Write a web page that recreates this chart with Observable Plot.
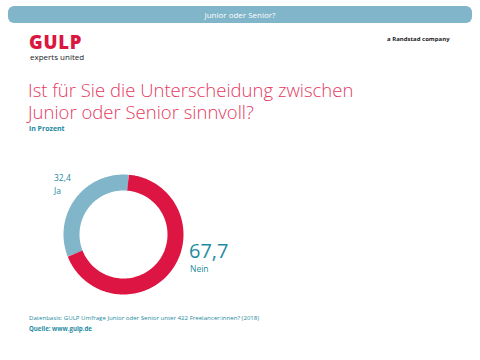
<!DOCTYPE html>
<html><head><meta charset="utf-8">
<script src="https://cdn.jsdelivr.net/npm/d3@7"></script>
<script src="https://cdn.jsdelivr.net/npm/@observablehq/plot@0.6"></script>
<style>
body{margin:0;background:#fff;font-family:"Open Sans",sans-serif;}
#wrap{position:relative;width:480px;height:360px;overflow:hidden;}
.abs{position:absolute;white-space:nowrap;}
#bar{left:8px;top:6px;width:464px;height:17px;border-radius:6px;background:#80b5ca;color:#fff;font-size:8px;text-align:center;line-height:17px;}
#logo{left:29px;top:33px;color:#db1640;font-weight:800;font-size:18.5px;line-height:17px;letter-spacing:0.8px;}
#sub{left:30px;top:52px;color:#222;font-size:8px;line-height:10px;}
#rand{left:387px;top:35px;color:#222;font-size:6px;font-weight:700;}
.tl{left:28px;color:#e5395f;font-size:18.5px;line-height:21px;font-weight:300;}
#unit{left:29px;top:124px;color:#1a8aa0;font-size:7px;line-height:9px;font-weight:700;}
#plot{left:0;top:150px;}
.lab{color:#1f8ba1;}
#foot1{left:29px;top:313px;color:#1f8ba1;font-size:6.1px;line-height:9px;}
#foot2{left:29px;top:324px;color:#1f8ba1;font-size:6.1px;line-height:9px;font-weight:700;}
</style></head>
<body><div id="wrap">
<div id="bar" class="abs"></div>
<div id="logo" class="abs">GULP</div>
<div id="sub" class="abs">experts united</div>
<div id="rand" class="abs">a Randstad company</div>
<div id="t1" class="abs tl" style="top:79px;">Ist für Sie die Unterscheidung zwischen</div>
<div id="t2" class="abs tl" style="top:101px;">Junior oder Senior sinnvoll?</div>
<div id="unit" class="abs">in Prozent</div>
<div id="plot" class="abs"></div>
<div id="labJa1" class="abs lab" style="left:54px;top:172px;font-size:8.5px;line-height:11px;"></div>
<div id="labJa2" class="abs lab" style="left:54px;top:185px;font-size:8.5px;line-height:11px;"></div>
<div id="labNein1" class="abs lab" style="left:189px;top:240px;font-size:20px;line-height:22px;"></div>
<div id="labNein2" class="abs lab" style="left:190px;top:263px;font-size:8.5px;line-height:11px;"></div>
<div id="foot1" class="abs"></div>
<div id="foot2" class="abs"></div>
</div>
<script>
const categories = ["Ja", "Nein"];
const values = [32.4, 67.7];
const colors = ["#80b5ca", "#dc1542"];
const headerText = "Junior oder Senior?";
const sourceText = "Datenbasis: GULP Umfrage Junior oder Senior unter 422 Freelancer:innen? (2018)";
const sourceLink = "Quelle: www.gulp.de";

document.getElementById("bar").textContent = headerText;
document.getElementById("foot1").textContent = sourceText;
document.getElementById("foot2").textContent = sourceLink;
const fmt = v => String(v).replace(".", ",");
document.getElementById("labJa1").textContent = fmt(values[0]);
document.getElementById("labJa2").textContent = categories[0];
document.getElementById("labNein1").textContent = fmt(values[1]);
document.getElementById("labNein2").textContent = categories[1];

const total = d3.sum(values);
const rot = 5; // degrees
const rMid = 52/60;
const pts = [];
const spans = [
  [rot - 360*values[0]/total, rot],
  [rot, rot + 360*values[1]/total]
];
categories.forEach((c, i) => {
  const [a0, a1] = spans[i];
  const n = 120;
  for (let k = 0; k <= n; k++) {
    const a = (a0 + (a1 - a0) * k / n) * Math.PI / 180;
    pts.push({cat: c, x: rMid*Math.sin(a), y: rMid*Math.cos(a)});
  }
});

const W = 480, H = 170, cx = 123, cy = 84, R = 60;
const chart = Plot.plot({
  width: W, height: H, margin: 0,
  x: {domain: [-cx/R, (W-cx)/R], range: [0, W], axis: null},
  y: {domain: [-(H-cy)/R, cy/R], range: [H, 0], axis: null},
  color: {domain: categories, range: colors},
  marks: [
    Plot.line(pts, {x: "x", y: "y", z: "cat", stroke: "cat", strokeWidth: 16, strokeLinecap: "butt", curve: "linear"})
  ]
});
document.getElementById("plot").appendChild(chart);
</script>
</body></html>
